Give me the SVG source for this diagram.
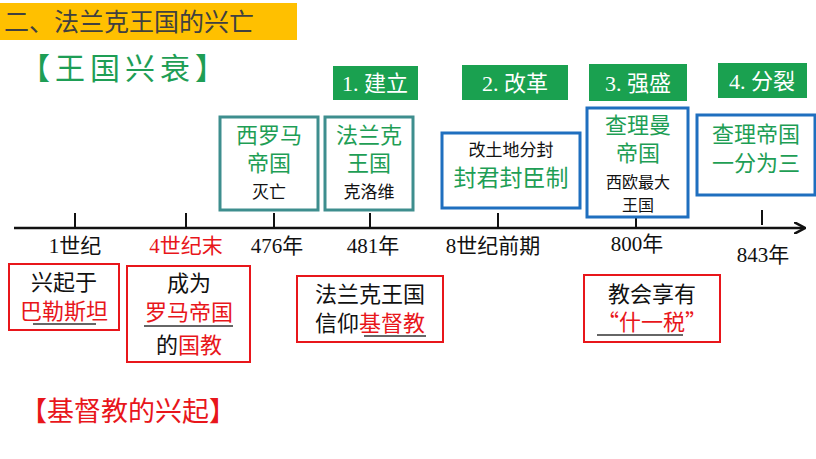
<svg xmlns="http://www.w3.org/2000/svg" width="816" height="459" viewBox="0 0 816 459">
<defs>
<style>
text{font-family:"Noto Sans CJK SC","Liberation Sans",sans-serif}
.s{font-family:"Liberation Serif","Noto Sans CJK SC",serif}
.g{fill:#1E9E55}
.r{fill:#E8161B}
.k{fill:#111}
.lab{fill:#1AA150}
.lt{fill:#fff;font-size:22px;text-anchor:middle}
.teal{fill:#fff;stroke:#3E8E8E;stroke-width:3}
.blue{fill:#fff;stroke:#1F6FBF;stroke-width:3}
.red{fill:#fff;stroke:#E8161B;stroke-width:2}
.ul{stroke:#333;stroke-width:1.5}
</style>
<marker id="ah" markerWidth="12" markerHeight="12" refX="10" refY="6" orient="auto" markerUnits="userSpaceOnUse"><path d="M0,0 L11,6 L0,12" fill="none" stroke="#111" stroke-width="2.5"/></marker>
</defs>
<rect width="816" height="459" fill="#fff"/>
<g id="title"><rect x="0" y="3" width="297" height="37" fill="#FFC000"/><text x="4" y="31" font-size="25" fill="#404040">二、法兰克王国的兴亡</text></g>
<g id="h1"><text x="20" y="79" font-size="30" letter-spacing="5" class="g">【王国兴衰】</text></g>
<g id="h2"><text x="20" y="421" font-size="27" class="r">【基督教的兴起】</text></g>
<g id="connectors">
<line x1="14" y1="228" x2="804" y2="228" stroke="#111" stroke-width="2.5" marker-end="url(#ah)"/>
<g stroke="#111" stroke-width="2">
<line x1="75" y1="213" x2="75" y2="228"/><line x1="186" y1="213" x2="186" y2="228"/><line x1="274" y1="213" x2="274" y2="228"/><line x1="370" y1="213" x2="370" y2="228"/><line x1="498" y1="213" x2="498" y2="228"/><line x1="636" y1="213" x2="636" y2="228"/><line x1="762" y1="210" x2="762" y2="225"/>
</g>
</g>
<g id="years" font-size="21" text-anchor="middle">
<text x="75" y="253" class="s k">1世纪</text><text x="186" y="253" class="s r">4世纪末</text><text x="277" y="253" class="s k">476年</text><text x="373" y="253" class="s k">481年</text><text x="493" y="253" class="s k">8世纪前期</text><text x="637" y="251" class="s k">800年</text><text x="763" y="262" class="s k">843年</text>
</g>
<g id="l1"><rect x="333" y="66" width="85" height="34" class="lab"/><text x="375" y="91" class="lt s">1. 建立</text></g>
<g id="l2"><rect x="462" y="65" width="106" height="35" class="lab"/><text x="515" y="91" class="lt s">2. 改革</text></g>
<g id="l3"><rect x="589" y="64" width="98" height="37" class="lab"/><text x="638" y="91" class="lt s">3. 强盛</text></g>
<g id="l4"><rect x="718" y="63" width="89" height="35" class="lab"/><text x="762" y="89" class="lt s">4. 分裂</text></g>
<g id="n1" text-anchor="middle"><rect x="220" y="117" width="98" height="93" class="teal"/><text x="269" y="143" font-size="22" class="g">西罗马</text><text x="269" y="171" font-size="22" class="g">帝国</text><text x="269" y="198" font-size="17" class="k">灭亡</text></g>
<g id="n2" text-anchor="middle"><rect x="325" y="117" width="88" height="93" class="teal"/><text x="369" y="143" font-size="22" class="g">法兰克</text><text x="369" y="171" font-size="22" class="g">王国</text><text x="369" y="198" font-size="17" class="k">克洛维</text></g>
<g id="n3" text-anchor="middle"><rect x="442" y="133" width="138" height="75" class="blue"/><text x="511" y="156" font-size="17" class="k">改土地分封</text><text x="511" y="186" font-size="23" class="g">封君封臣制</text></g>
<g id="n4" text-anchor="middle"><rect x="587" y="108" width="101" height="109" class="blue"/><text x="638" y="133" font-size="22" class="g">查理曼</text><text x="638" y="161" font-size="22" class="g">帝国</text><text x="638" y="188" font-size="16" class="k">西欧最大</text><text x="638" y="211" font-size="16" class="k">王国</text></g>
<g id="n5" text-anchor="middle"><rect x="697" y="115" width="118" height="80" class="blue"/><text x="756" y="142" font-size="22" class="g">查理帝国</text><text x="756" y="171" font-size="22" class="g">一分为三</text></g>
<g id="b1" text-anchor="middle"><rect x="9" y="264" width="110" height="66" class="red"/><text x="64" y="290" font-size="22" class="k">兴起于</text><text x="64" y="319" font-size="22" class="r">巴勒斯坦</text><line x1="33" y1="324" x2="96" y2="324" class="ul"/></g>
<g id="b2" text-anchor="middle"><rect x="127" y="266" width="123" height="96" class="red"/><text x="189" y="291" font-size="22" class="k">成为</text><text x="189" y="320" font-size="22" class="r">罗马帝国</text><line x1="144" y1="326" x2="233" y2="326" class="ul"/><text x="189" y="353" font-size="22"><tspan class="k">的</tspan><tspan class="r">国教</tspan></text></g>
<g id="b3" text-anchor="middle"><rect x="297" y="276" width="146" height="66" class="red"/><text x="370" y="302" font-size="22" class="k">法兰克王国</text><text x="370" y="331" font-size="22"><tspan class="k">信仰</tspan><tspan class="r">基督教</tspan></text><line x1="364" y1="336" x2="426" y2="336" class="ul"/></g>
<g id="b4" text-anchor="middle"><rect x="584" y="275" width="136" height="67" class="red"/><text x="652" y="302" font-size="22" class="k">教会享有</text><text x="652" y="330" font-size="22" class="r">“什一税”</text><line x1="597" y1="335" x2="683" y2="335" class="ul"/></g>
</svg>
